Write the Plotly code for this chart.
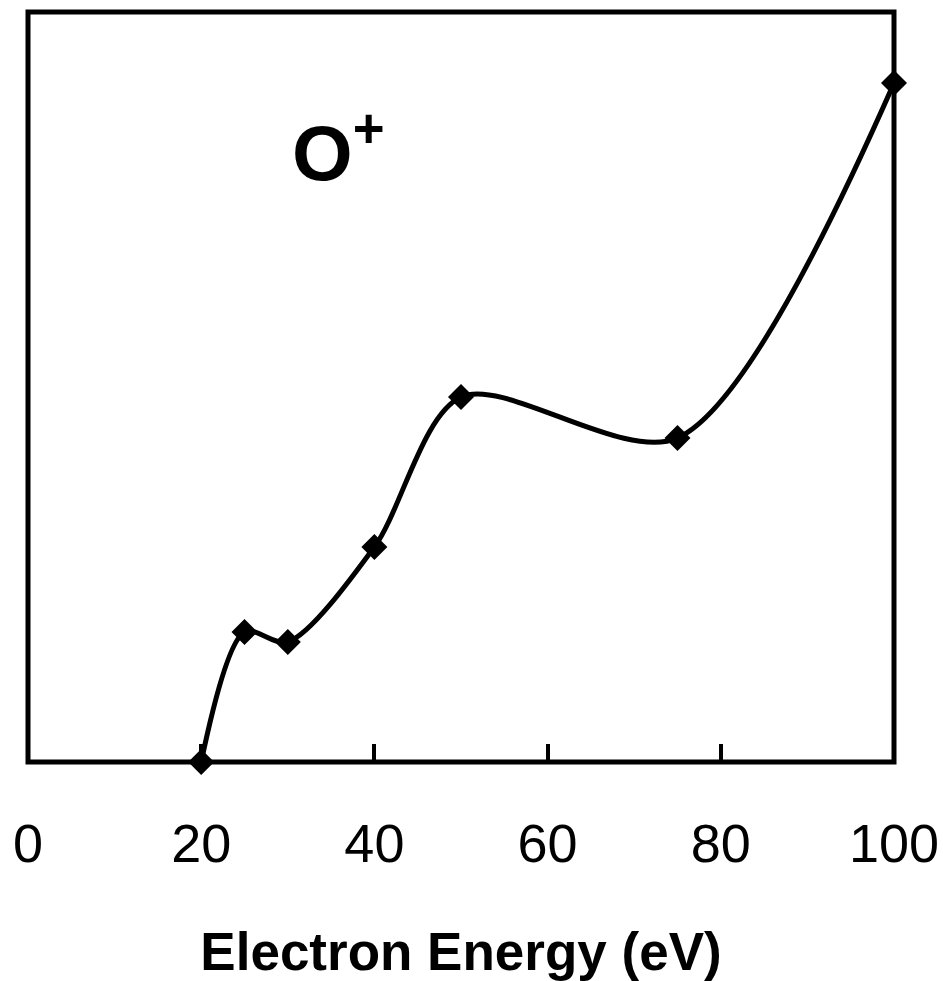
import plotly.graph_objects as go

# O+ ion yield vs electron energy (arbitrary units)
energy_ev = [20, 25, 30, 40, 50, 75, 100]
o_plus_yield = [0, 130, 120, 215, 365, 324, 679]

x_ticks = [0, 20, 40, 60, 80, 100]

FONT = "Liberation Sans, Arial, sans-serif"

fig = go.Figure()
fig.add_trace(go.Scatter(
    x=energy_ev,
    y=o_plus_yield,
    mode="lines+markers",
    line=dict(color="black", width=5, shape="spline", smoothing=0.85),
    marker=dict(symbol="diamond", size=20, color="black"),
    cliponaxis=False,
    showlegend=False,
))

# plot frame
fig.add_shape(type="rect", xref="paper", yref="paper", x0=0, y0=0, x1=1, y1=1,
              line=dict(color="black", width=5), layer="above")

fig.add_annotation(x=0.359, y=0.888, xref="paper", yref="paper",
                   text="<b>O<sup>+</sup></b>", showarrow=False,
                   font=dict(family=FONT, size=78, color="black"))

fig.update_layout(
    width=943, height=981,
    margin=dict(l=28, r=49, t=12, b=219),
    paper_bgcolor="white", plot_bgcolor="white",
    font=dict(family=FONT, color="black"),
    xaxis=dict(
        range=[0, 100], tickvals=x_ticks, ticktext=[str(v) for v in x_ticks],
        showgrid=False, zeroline=False, showline=False, automargin=False,
        ticks="inside", ticklen=18, tickwidth=4, tickcolor="black",
        ticklabelstandoff=45,
        tickfont=dict(family=FONT, size=54, color="black"),
        title=dict(text="<b>Electron Energy (eV)</b>", standoff=60,
                   font=dict(family=FONT, size=53, color="black")),
    ),
    yaxis=dict(
        range=[0, 750], showgrid=False, zeroline=False, showline=False,
        showticklabels=False, ticks="", automargin=False,
    ),
)

fig.write_html("out.html")
